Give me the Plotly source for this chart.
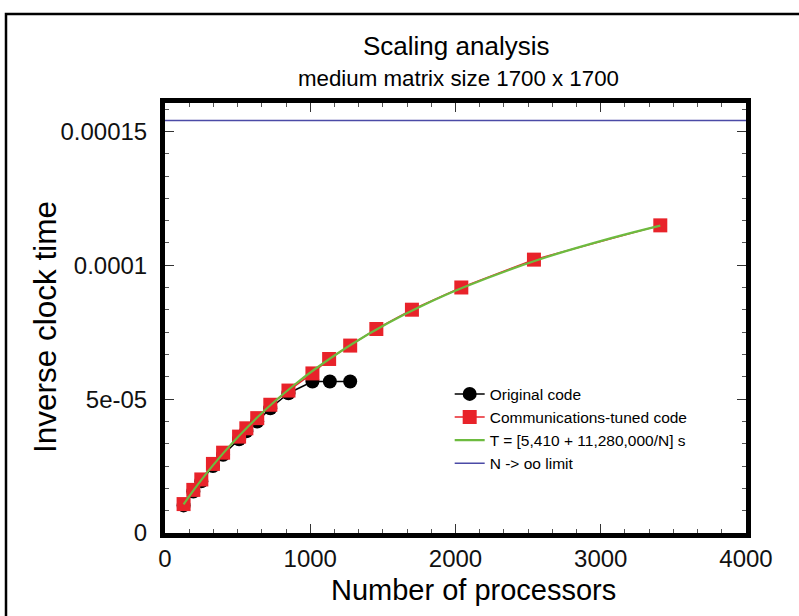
import plotly.graph_objects as go

# ---- data ----
orig_n = [128, 195, 250, 330, 400, 510, 560, 635, 725, 850, 1015, 1135, 1275]
orig_inv = [1.03e-5, 1.55e-5, 1.93e-5, 2.50e-5, 2.92e-5, 3.50e-5, 3.80e-5,
            4.16e-5, 4.66e-5, 5.22e-5, 5.66e-5, 5.66e-5, 5.66e-5]

tuned_n = [128, 195, 250, 330, 400, 510, 560, 635, 725, 850, 1015, 1130,
           1275, 1455, 1700, 2040, 2540, 3410]
tuned_inv = [1.08e-5, 1.61e-5, 2.00e-5, 2.58e-5, 3.00e-5, 3.60e-5, 3.91e-5,
             4.29e-5, 4.79e-5, 5.32e-5, 5.96e-5, 6.50e-5, 7.00e-5, 7.62e-5,
             8.34e-5, 9.17e-5, 1.021e-4, 1.149e-4]

fit_n = [128, 200, 256, 320, 400, 512, 640, 768, 896, 1024, 1280, 1536,
         1792, 2048, 2560, 3072, 3410]
fit_inv = [1.069e-5, 1.618e-5, 2.021e-5, 2.459e-5, 2.975e-5, 3.644e-5,
           4.341e-5, 4.976e-5, 5.556e-5, 6.088e-5, 7.031e-5, 7.841e-5,
           8.543e-5, 9.159e-5, 1.0187e-4, 1.1011e-4, 1.148e-4]

limit_n = [0, 4000]
limit_inv = [1.541e-4, 1.541e-4]

x_ticks = [0, 1000, 2000, 3000, 4000]
y_ticks = [0, 5e-5, 1e-4, 1.5e-4]
y_ticktext = ["0", "5e-05", "0.0001", "0.00015"]

title_text = "Scaling analysis"
subtitle_text = "medium matrix size 1700 x 1700"
x_title = "Number of processors"
y_title = "Inverse clock time"

FONT = "Liberation Sans, Arial, sans-serif"

fig = go.Figure()
fig.add_trace(go.Scatter(
    x=orig_n, y=orig_inv, mode="lines+markers", name="Original code",
    line=dict(color="black", width=1.5),
    marker=dict(symbol="circle", size=14, color="black")))
fig.add_trace(go.Scatter(
    x=tuned_n, y=tuned_inv, mode="lines+markers", name="Communications-tuned code",
    line=dict(color="#e8232a", width=1.5),
    marker=dict(symbol="square", size=14, color="#e8232a")))
fig.add_trace(go.Scatter(
    x=fit_n, y=fit_inv, mode="lines", name="T = [5,410 + 11,280,000/N] s",
    line=dict(color="#6dbb3f", width=2.2, shape="spline")))
fig.add_trace(go.Scatter(
    x=limit_n, y=limit_inv, mode="lines", name="N -> oo limit",
    line=dict(color="#4b4aa6", width=1.5)))

axis_common = dict(
    showline=True, linecolor="black", linewidth=5, mirror="ticks",
    ticks="inside", ticklen=9, tickwidth=1, tickcolor="#333",
    showgrid=False, zeroline=False,
    tickfont=dict(family=FONT, size=24, color="#111"),
)

fig.update_xaxes(
    range=[0, 4000], tickvals=x_ticks,
    minor=dict(dtick=1000 / 6, ticks="inside", ticklen=4, tickcolor="#555", tickwidth=1),
    **axis_common)
fig.update_yaxes(
    range=[0, 1.606e-4], tickvals=y_ticks, ticktext=y_ticktext,
    ticklabelstandoff=8,
    minor=dict(dtick=5e-5 / 6, ticks="inside", ticklen=4, tickcolor="#555", tickwidth=1),
    **axis_common)

fig.update_layout(
    width=799, height=616,
    margin=dict(l=165, r=53, t=103, b=83),
    paper_bgcolor="white", plot_bgcolor="white",
    font=dict(family=FONT, color="black"),
    showlegend=True,
    legend=dict(x=0.49, y=0.362, xanchor="left", yanchor="top",
                bgcolor="rgba(0,0,0,0)", borderwidth=0,
                font=dict(family=FONT, size=15.5, color="black"),
                tracegroupgap=0),
    annotations=[
        dict(text=title_text, xref="paper", yref="paper", x=0.5, y=1.133,
             xanchor="center", yanchor="middle", showarrow=False,
             font=dict(family=FONT, size=26, color="black")),
        dict(text=subtitle_text, xref="paper", yref="paper", x=0.505, y=1.056,
             xanchor="center", yanchor="middle", showarrow=False,
             font=dict(family=FONT, size=22.3, color="black")),
        dict(text=x_title, xref="paper", yref="paper", x=(473 - 165) / 581,
             y=(533 - 590) / 430, xanchor="center", yanchor="middle",
             showarrow=False, font=dict(family=FONT, size=29, color="black")),
        dict(text=y_title, xref="paper", yref="paper", x=(45 - 165) / 581,
             y=(533 - 327) / 430, xanchor="center", yanchor="middle",
             textangle=-90, showarrow=False,
             font=dict(family=FONT, size=31.5, color="black")),
    ],
    shapes=[
        dict(type="rect", xref="paper", yref="paper",
             x0=(6 - 165) / 581, x1=(830 - 165) / 581,
             y0=(533 - 640) / 430, y1=(533 - 14) / 430,
             line=dict(color="black", width=2.5), fillcolor="rgba(0,0,0,0)",
             layer="below"),
    ],
)

fig.write_html("out.html", config={"displayModeBar": False},
               post_script="document.body.style.margin='0';")
